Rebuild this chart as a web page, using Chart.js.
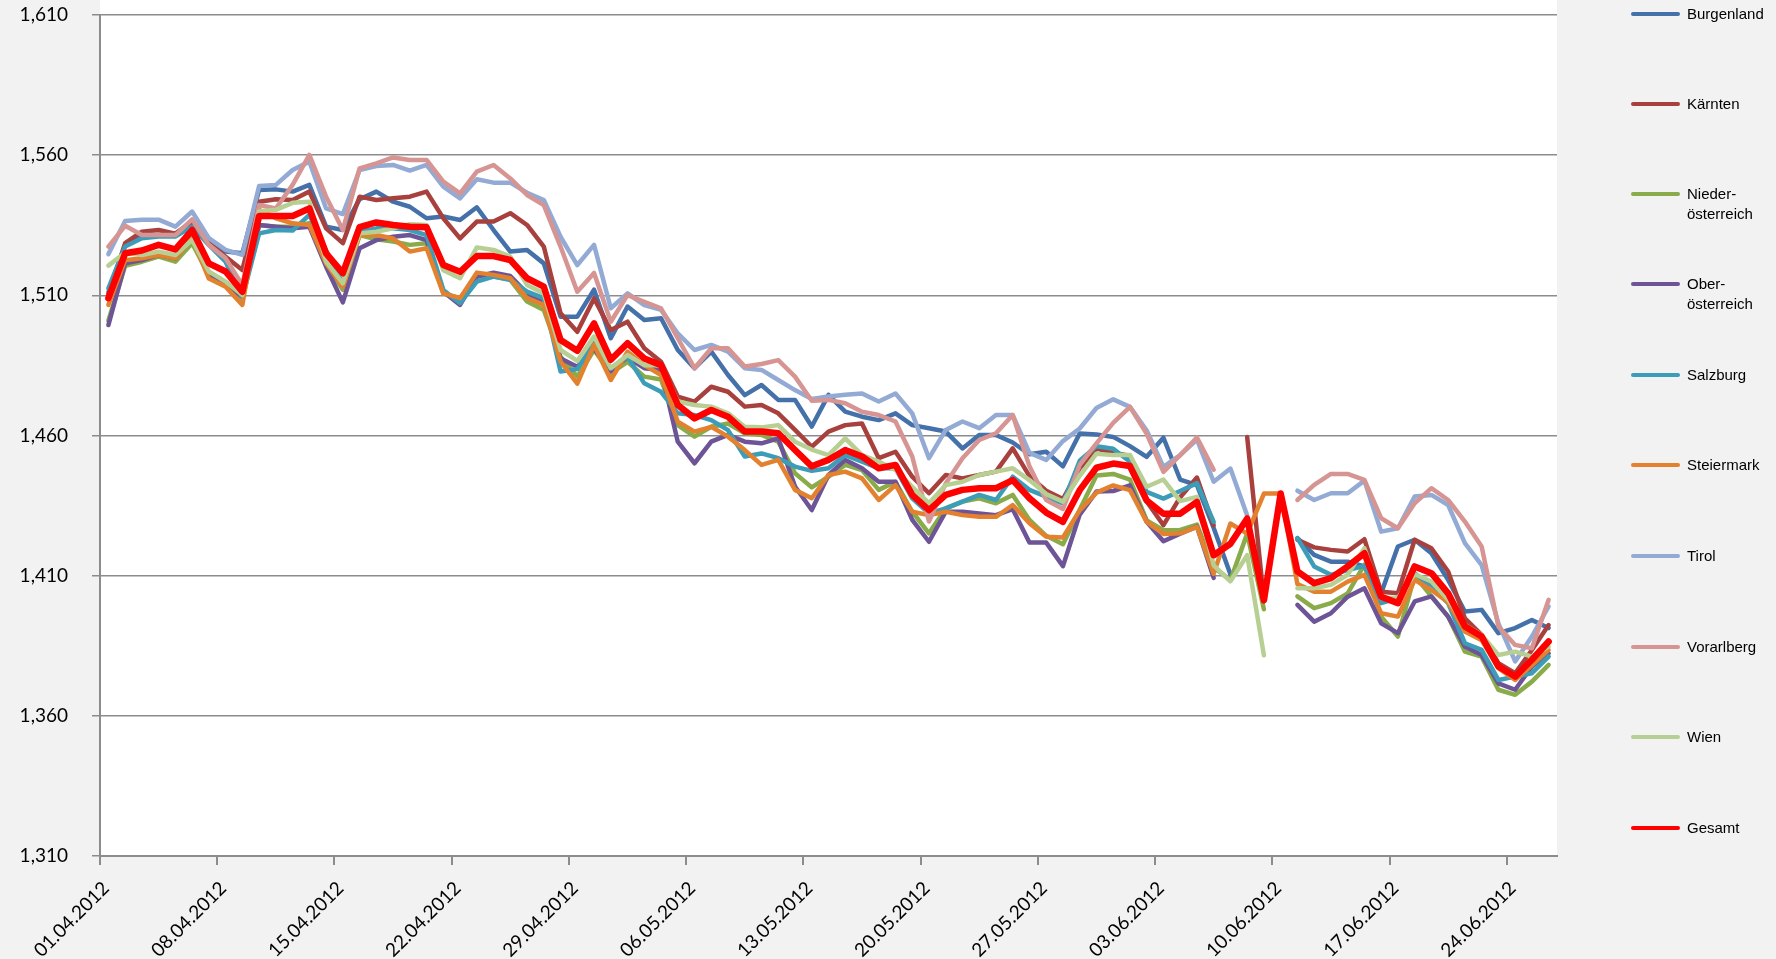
<!DOCTYPE html>
<html>
<head>
<meta charset="utf-8">
<script src="https://cdn.jsdelivr.net/npm/chart.js@4.4.0/dist/chart.umd.min.js"></script>
<style>
  body { margin: 0; background: #f2f2f2; }
  #wrap { position: relative; width: 1776px; height: 959px; }
  #legend { position: absolute; left: 1631px; top: 0; font-family: "Liberation Sans", Arial, sans-serif; font-size: 15px; color: #000; }
  .item { position: absolute; left: 0; white-space: nowrap; }
  .item i { position: absolute; left: 0; top: -2px; width: 49px; height: 4px; border-radius: 2px; }
  .item span { position: absolute; left: 56px; top: -10px; line-height: 20px; }
</style>
</head>
<body>
<div id="wrap">
  <canvas id="chart" width="1776" height="959"></canvas>
  <div id="legend"></div>
</div>
<script>
// one value per day, 01.04.2012 .. 26.06.2012 (null = no price reported)
const tickLabels = ['01.04.2012','08.04.2012','15.04.2012','22.04.2012','29.04.2012','06.05.2012',
  '13.05.2012','20.05.2012','27.05.2012','03.06.2012','10.06.2012','17.06.2012','24.06.2012'];

const burgenland = [1511,1528,1531.5,1531.5,1532,1535.7,1529.2,1525.6,1525,1547.6,1547.8,1547,1549.4,1534.5,1533.3,
  1544.3,1547,1543.4,1541.6,1537.5,1538.1,1536.9,1541.4,1533.3,1525.6,1526.2,1521.4,1502.4,1502.4,1512,
  1494.7,1506,1501.2,1501.8,1490.5,1484,1489.9,1481.6,1474.4,1478,1472.7,1472.7,1463.2,1474.5,1468.5,
  1466.7,1465.5,1467.9,1463.7,1462.6,1461.4,1455.4,1460.2,1460.2,1457.5,1453.3,1454.2,1449,1460.7,1460.4,
  1459.5,1456.2,1452.4,1459.2,1444.3,1442.3,1427,1410.5,null,null,null,1423.4,1417.4,1415,1415,
  1413.3,1403.7,1420.4,1422.8,1418,1408.5,1397.2,1397.8,1389.5,1391.3,1394.2,1391.3];

const kaernten = [1510,1528.6,1532.7,1533.3,1532,1536.3,1528.6,1523.8,1519,1543.4,1544.3,1544,1547,1533.9,1528.6,
  1545.2,1544,1544.6,1545.2,1547,1537.5,1530.3,1536.3,1536.3,1539.3,1535.1,1527.4,1503.6,1497,1508.9,
  1497.6,1500.6,1491.1,1486.3,1473.9,1472.1,1477.4,1475.6,1470.3,1470.9,1467.9,1462,1456,1461.4,1463.7,
  1464.3,1451.9,1454.2,1445.3,1439.4,1445.9,1444.7,1445.9,1447.1,1455.4,1445.5,1440.3,1437.3,1448.3,1455.3,
  1453.8,1452.8,1436.5,1428,1438,1445,1428,null,1459.5,1401.2,null,1422.8,1420.1,1419.2,1418.6,
  1423,1404.3,1403.7,1422.8,1419.8,1411.5,1394.8,1388.9,1378.8,1375.2,1383.5,1392.4];

const niederoesterreich = [1501,1520.5,1522,1523.8,1522,1528.6,1517.3,1513.7,1509,1535.1,1534.5,1534.5,1535.7,1521.4,1512,
  1531.5,1530,1529.2,1528,1528.6,1510.7,1509,1516.7,1516.7,1515.5,1507.8,1504.8,1488.1,1481,1490.5,
  1482.2,1486.3,1481,1480,1463.7,1459.6,1463.1,1464.3,1460.8,1460.2,1457.8,1446.5,1441.5,1445.3,1449.5,
  1447.7,1440.6,1443.5,1432.8,1425.1,1434,1436.4,1437.6,1435.8,1438.8,1429.9,1424.2,1421.2,1433.5,1445.7,
  1446.3,1444.3,1429.7,1426.2,1426.3,1428.2,1413,1408.4,1425,1398,null,1402.6,1398.4,1400.2,1403.7,
  1413.9,1395.4,1388.3,1410,1402.6,1395.4,1382.9,1381.1,1369.3,1367.5,1372.2,1378.2];

const oberoesterreich = [1499.4,1521.4,1522.6,1524.4,1523.2,1531,1517.3,1513.7,1509.5,1535.1,1534.5,1533.9,1534.5,1520.2,1507.5,
  1526.8,1529.7,1530.9,1531.5,1529.7,1511.3,1506.6,1516.7,1518.1,1516.9,1510.7,1508,1487.5,1484.5,1491,
  1483,1488,1484,1483.4,1457.8,1450.1,1457.8,1460.2,1457.8,1457.2,1459,1441.8,1433.4,1445.9,1451.3,
  1448.3,1443.5,1443.5,1429.9,1422.1,1432.8,1432.8,1432.2,1431.6,1433.7,1421.8,1421.8,1413.4,1431.8,1440,
  1440.2,1442.2,1429.2,1422.3,1425,1427.5,1409.2,null,null,null,null,1399.6,1393.6,1396.6,1402.5,
  1405.5,1393,1389.5,1400.8,1402.6,1395.4,1384.7,1381.7,1371.6,1369.3,1377.6,1382.3];

const salzburg = [1512.5,1527.4,1530.4,1531,1531,1534.5,1528,1522,1509,1532.1,1533.3,1533.1,1538.7,1526,1514,
  1532.7,1533.9,1533.9,1533.3,1531.5,1511.9,1507.2,1514.9,1516.7,1515.5,1511.3,1509,1482.8,1483.7,1493.5,
  1484,1488.1,1478.6,1475.6,1467.9,1467.3,1465.5,1461.9,1452.5,1453.6,1451.9,1448.9,1447.4,1448.3,1453,
  1450.7,1448.3,1448.3,1437.6,1432.2,1434,1436.4,1438.8,1437,1445.3,1440.6,1438.2,1435.8,1451,1456.2,
  1455.3,1450.6,1439.9,1437.5,1440.2,1443,1429.2,null,null,null,null,1423.4,1413.3,1410.3,1412,
  1413.5,1400.2,1402,1410.9,1406.1,1400.2,1385.9,1383.5,1372.8,1374,1375.2,1381.1];

const steiermark = [1506.6,1522.5,1523.2,1524.4,1523.2,1530.4,1516,1513.1,1506.6,1540.5,1537.5,1535.7,1535.1,1521.4,1513,
  1531.5,1531.5,1530.3,1525.6,1526.8,1510.7,1509,1518.1,1517.3,1516.1,1509,1506.6,1486.4,1478.5,1492.3,
  1479.8,1489.9,1485.1,1481.6,1464.9,1461.4,1463.1,1459.6,1454.8,1449.5,1451.3,1440.6,1437.6,1445.9,1447.1,
  1444.7,1437,1442.3,1432.8,1431.6,1432.8,1431.6,1431,1431,1435.2,1428.7,1423.9,1423.6,1433.3,1439.6,
  1442.2,1440.5,1429.2,1424.9,1425.1,1427.4,1410.7,1428.6,1425,1439.3,1439.3,1407,1404.3,1404.3,1407.9,
  1410.3,1396.6,1395.4,1408.5,1404.9,1400.5,1390.1,1387,1377,1372.8,1378,1383.5];

const tirol = [1524.7,1536.5,1537,1537,1534.5,1539.9,1530.4,1526.2,1524.4,1549,1549.4,1554.7,1557.7,1541,1539,
  1554.7,1556.1,1556.5,1554.5,1556.5,1548.8,1544.6,1551.4,1550.2,1550.2,1546.6,1544,1530.9,1520.8,1528,
  1505.4,1510.7,1506.5,1504.8,1496.4,1490.5,1492.3,1489.9,1484,1483.4,1479.8,1476.2,1473,1473.9,1474.5,
  1475,1472.1,1475,1467.9,1451.9,1462,1465,1462.6,1467.3,1467.3,1453.8,1451.3,1458,1462.5,1469.8,
  1472.9,1470.2,1461.8,1448.8,1453,1458.5,1443.5,1448.2,1431.5,null,null,1440.3,1437,1439.4,1439.4,
  1443.9,1425.7,1426.9,1438.2,1438.8,1435.2,1421.6,1413.8,1393,1379.4,1388.3,1399];

const vorarlberg = [1527.4,1534.8,1531.5,1531.5,1531.5,1537.1,1528,1523.2,1513.7,1542.2,1541,1549.4,1560.1,1545.2,1533.3,
  1555.3,1557.1,1559.2,1558.3,1558.3,1550.6,1546.4,1554.1,1556.5,1551.7,1545.8,1542.2,1527.4,1511.3,1518,
  1500.6,1510.1,1507.7,1505.4,1494.7,1484,1491.1,1491.1,1484.6,1485.5,1486.9,1481,1472.4,1472.7,1471.5,
  1468.5,1467.3,1465,1452.5,1429.3,1442.9,1451.9,1458.4,1460.8,1467.3,1449,1437,1433.8,1449.5,1457.2,
  1464.5,1470.2,1460.6,1447,1453,1459.3,1447.8,null,null,null,null,1437,1442.4,1446.3,1446.3,
  1444.2,1430.5,1426.9,1435.8,1441.2,1437,1429.3,1420.4,1391.9,1385.3,1384.1,1401.4];

const wien = [1520.6,1525.2,1524.4,1525.6,1524.4,1529.8,1518.5,1514.9,1510.1,1539.9,1540.5,1543,1543.4,1522,1514.3,
  1532.1,1532.7,1533.9,1535.4,1535.1,1519,1516.1,1527.1,1526.2,1523.8,1513.7,1510.7,1490.5,1486.6,1495.3,
  1484,1488.7,1485.1,1485.1,1472.1,1470.9,1470.3,1467.9,1463.1,1462.9,1463.7,1457.8,1455,1453,1459,
  1453,1450.7,1447.7,1441.7,1435.8,1442.3,1443.5,1445.9,1447.1,1448.3,1444.1,1439.1,1436.4,1445.6,1453.5,
  1453,1453,1441.7,1444.3,1436.6,1438.1,1413.7,1408,1417.3,1381.6,null,1405.5,1405.5,1406.7,1410.3,
  1419.8,1402,1402,1410.5,1407.9,1401.4,1392.4,1388.9,1381.7,1382.9,1381.1,1384.7];

const gesamt = [1509,1525,1526,1528,1526.4,1533.3,1521.4,1518.5,1511.3,1538.3,1538.3,1538.3,1541,1525,1517.9,
  1534.3,1536,1535.1,1534.5,1534.3,1520.8,1518.4,1524,1524,1522.6,1516.1,1513.1,1494.1,1490.2,1500,
  1487,1492.9,1487.5,1485.1,1470.9,1466.1,1469.1,1466.7,1461.4,1461.4,1460.8,1454.8,1449,1451.3,1454.8,
  1452.5,1448.3,1449.5,1438.8,1433.4,1438.8,1440.6,1441.2,1441.2,1444.1,1437.6,1432.5,1429.2,1440.5,1448.5,
  1450,1449.1,1436.8,1432.1,1432.1,1436.3,1417.3,1421.4,1430.4,1401.2,1439.3,1411.5,1407.3,1409.1,1413.3,
  1418,1402.5,1400.2,1413.3,1410.9,1403.7,1391.9,1388.3,1377.6,1374,1380,1386.5];

const names = ['Burgenland','Kärnten','Nieder-\nösterreich','Ober-\nösterreich','Salzburg',
  'Steiermark','Tirol','Vorarlberg','Wien','Gesamt'];
const colors = ['#4471a9','#a8403d','#8aab4a','#6d5496','#3d9cb8','#e3812f','#93abd4','#d69592','#b7cf92','#ff0000'];
const series = [burgenland,kaernten,niederoesterreich,oberoesterreich,salzburg,steiermark,tirol,vorarlberg,wien,gesamt];

const legendTops = [14,104,194,284,375,465,556,647,737,828];

const legend = document.getElementById('legend');
names.forEach((n, i) => {
  const d = document.createElement('div');
  d.className = 'item';
  d.style.top = legendTops[i] + 'px';
  d.innerHTML = `<i style="background:${colors[i]}"></i><span>${n.replace('\n', '<br>')}</span>`;
  legend.appendChild(d);
});

const plotBg = {
  id: 'plotBg',
  beforeDraw(chart) {
    const c = chart.ctx, a = chart.chartArea;
    c.save();
    c.fillStyle = '#f2f2f2';
    c.fillRect(0, 0, chart.width, chart.height);
    c.fillStyle = '#ffffff';
    c.fillRect(a.left, 0, a.right - a.left, a.bottom);
    c.restore();
  }
};

const gridCol = '#8c8c8c';
const tickFont = { family: 'Lato, "Open Sans", sans-serif', size: 19 };

new Chart(document.getElementById('chart'), {
  type: 'line',
  data: {
    datasets: series.map((s, i) => ({
      label: names[i],
      data: s.map((v, d) => ({ x: d + 0.5, y: v })),
      borderColor: colors[i],
      borderWidth: i === 9 ? 6.5 : 4.5,
      pointRadius: 0,
      tension: 0,
      spanGaps: false,
      borderJoinStyle: 'round',
      borderCapStyle: 'round',
      order: 9 - i
    }))
  },
  options: {
    responsive: false,
    animation: false,
    devicePixelRatio: 1,
    layout: { padding: { left: 0, right: 219, top: 15, bottom: 0 } },
    plugins: { legend: { display: false }, tooltip: { enabled: false } },
    scales: {
      x: {
        type: 'linear',
        min: 0,
        max: 87,
        afterBuildTicks: s => { s.ticks = s.ticks.filter(t => t.value % 7 === 0); },
        afterFit: s => { s.height = 103; s.paddingLeft = 0; s.paddingRight = 0; s.paddingTop = 0; s.paddingBottom = 0; },
        ticks: {
          stepSize: 7,
          autoSkip: false,
          minRotation: 45,
          maxRotation: 45,
          padding: 12,
          labelOffset: 6,
          color: '#000',
          font: tickFont,
          callback: v => tickLabels[v / 7] || ''
        },
        grid: { drawOnChartArea: false, drawTicks: true, tickLength: 9, color: gridCol, lineWidth: 2 },
        border: { color: gridCol, width: 2 }
      },
      y: {
        min: 1310,
        max: 1610,
        afterFit: s => { s.width = 100; s.paddingTop = 0; s.paddingBottom = 0; },
        ticks: {
          stepSize: 50,
          padding: 24,
          color: '#000',
          font: tickFont,
          callback: v => v.toLocaleString('en-US')
        },
        grid: { color: gridCol, lineWidth: 1.5, tickLength: 8 },
        border: { color: gridCol, width: 2 }
      }
    }
  },
  plugins: [plotBg]
});
</script>
</body>
</html>
